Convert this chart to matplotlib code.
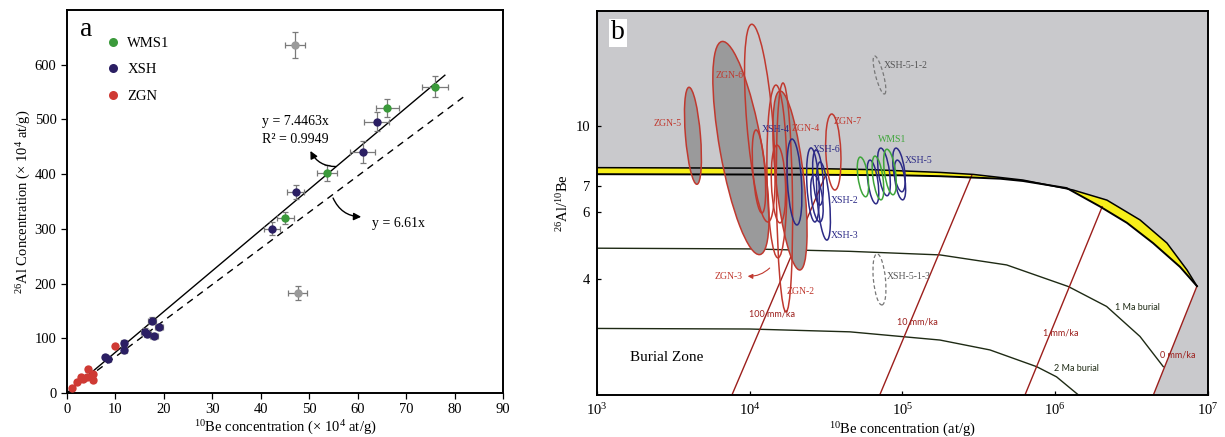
import numpy as np
import matplotlib
matplotlib.use("Agg")
import matplotlib.pyplot as plt
from matplotlib.lines import Line2D
from matplotlib.patches import Ellipse
from matplotlib.transforms import IdentityTransform

plt.rcParams["font.family"] = ["Liberation Serif", "DejaVu Serif"]
plt.rcParams["mathtext.fontset"] = "custom"
plt.rcParams["mathtext.rm"] = "Liberation Serif"
plt.rcParams["mathtext.it"] = "Liberation Serif:italic"
plt.rcParams["mathtext.bf"] = "Liberation Serif:bold"

# ---------------- panel a data (x 10^4 at/g) ----------------
wms_be = [76.0, 66.1, 53.7, 45.1]
wms_al = [560, 521, 402, 320]
wms_be_err = [2.7, 2.4, 2.0, 1.7]
wms_al_err = [19, 17, 14, 11]

xsh_be = [63.9, 61.0, 47.2, 42.3, 17.5, 16.1, 16.6, 17.9, 19.0, 11.8, 11.8, 7.9, 8.5]
xsh_al = [496, 441, 367, 300, 132, 112, 108, 104, 121, 91, 79, 66, 62]
xsh_be_err = [2.6, 2.6, 1.8, 1.7, 0.8, 0.8, 0.8, 0.8, 0.8, 0.6, 0.6, 0.5, 0.5]
xsh_al_err = [18, 20, 13, 12, 6, 6, 6, 6, 6, 5, 5, 4, 4]

zgn_be = [10.0, 4.4, 2.8, 5.3, 4.1, 2.1, 1.0, 3.4, 5.4]
zgn_al = [86, 43, 29, 35, 30, 21, 10, 25, 24]
zgn_be_err = [0.4, 0.3, 0.3, 0.3, 0.3, 0.2, 0.2, 0.3, 0.3]
zgn_al_err = [4, 4, 3, 3, 3, 2, 2, 3, 3]

out_be = [47.0, 47.6]
out_al = [636, 183]
out_be_err = [2.1, 1.9]
out_al_err = [24, 13]

fit_slope = 7.4463
ref_slope = 6.61
fit_xmax = 78.0
ref_xmax = 82.5

# ---------------- panel b data (at/g, ratio) ----------------
upper_be = [1e3, 2.13e4, 6.12e4, 1.76e5, 2.9e5, 6.15e5, 1.31e6, 2.18e6, 3.59e6, 5.39e6, 7.29e6, 8.47e6]
upper_ratio = [7.81, 7.78, 7.72, 7.59, 7.50, 7.25, 6.83, 6.43, 5.71, 4.97, 4.23, 3.84]
lower_be = [1e3, 2.13e4, 9.63e4, 1.76e5, 4.35e5, 6.15e5, 1.19e6, 1.96e6, 2.95e6, 4.37e6, 6.56e6, 8.47e6]
lower_ratio = [7.51, 7.49, 7.46, 7.42, 7.31, 7.21, 6.91, 6.19, 5.61, 4.97, 4.31, 3.84]

burial1_be = [1e3, 1.0e4, 4.53e4, 1.76e5, 4.81e5, 1.22e6, 2.17e6, 3.59e6, 5.10e6]
burial1_ratio = [4.82, 4.80, 4.73, 4.63, 4.36, 3.83, 3.40, 2.84, 2.37]
burial2_be = [1e3, 1.0e4, 4.53e4, 1.76e5, 3.74e5, 7.56e5, 1.02e6, 1.42e6]
burial2_ratio = [2.98, 2.97, 2.92, 2.78, 2.62, 2.37, 2.23, 2.0]

erosion_names = ["100 mm/ka", "10 mm/ka", "1 mm/ka", "0 mm/ka"]
erosion_be = [(7.65e3, 3.16e4), (7.10e4, 2.84e5), (6.34e5, 2.03e6), (4.39e6, 8.47e6)]
erosion_ratio = [(2.0, 7.51), (2.0, 7.45), (2.0, 6.18), (2.0, 3.84)]
erosion_label_pos = [(1.40e4, 3.25), (1.26e5, 3.09), (1.09e6, 2.905), (6.36e6, 2.54)]

# ellipses: (top Be, top ratio, bottom Be, bottom ratio, minor width in log10 units)
zgn_filled = [
    (4002, 12.64, 4515, 7.07, 0.098),
    (6580, 16.63, 11670, 4.64, 0.275),
    (15780, 12.36, 21330, 4.23, 0.183),
]
zgn_open = [
    (4002, 12.64, 4515, 7.07, 0.098),
    (6580, 16.63, 11670, 4.64, 0.275),
    (15780, 12.36, 21330, 4.23, 0.183),
    (10300, 18.44, 13170, 5.64, 0.170),
    (10990, 9.79, 12030, 5.95, 0.079),
    (14850, 12.81, 15310, 4.55, 0.131),
    (16510, 12.97, 17280, 3.29, 0.105),
    (15080, 8.94, 15780, 5.61, 0.092),
    (34400, 10.77, 36150, 6.83, 0.098),
]
xsh_ell = [
    (18910, 9.27, 20390, 5.54, 0.092),
    (25180, 8.79, 26740, 5.64, 0.079),
    (27150, 8.68, 28830, 6.24, 0.065),
    (28830, 8.08, 32040, 5.06, 0.079),
    (26340, 7.47, 28830, 5.64, 0.072),
    (61180, 8.17, 67180, 6.29, 0.065),
    (72000, 8.78, 79520, 6.60, 0.072),
    (90540, 8.78, 99400, 6.76, 0.072),
    (92330, 8.17, 100500, 6.44, 0.065),
]
wms_ell = [
    (52850, 8.32, 57520, 6.56, 0.065),
    (65970, 8.37, 72430, 6.44, 0.065),
    (78920, 8.72, 86930, 6.64, 0.072),
]
grey_ell = [
    (65570, 15.25, 76340, 12.14, 0.052),
    (68090, 4.66, 73400, 3.43, 0.079),
]

zgn_labels = [("ZGN-5", 2916, 10.2), ("ZGN-6", 7424, 13.53), ("ZGN-4", 23350, 9.90),
              ("ZGN-7", 43980, 10.27), ("ZGN-2", 21650, 3.71)]
xsh_labels = [("XSH-4", 14850, 9.79), ("XSH-6", 32040, 8.73), ("XSH-2", 42030, 6.40),
              ("XSH-3", 42030, 5.19), ("XSH-5", 128200, 8.14)]

GREEN = "#3b9a3b"
NAVY = "#2b1f63"
RED = "#cf3a34"
GREY = "#9a9a9a"
ZRED = "#c0392f"
BLUE = "#2c2a86"
ERO = "#9c1f1c"
BUR = "#1e2a14"

fig = plt.figure(figsize=(12.25, 4.37), dpi=100)
ax = fig.add_axes([0.0547, 0.1007, 0.3559, 0.8764])
bx = fig.add_axes([0.4873, 0.0961, 0.4988, 0.8794])

# ---------------- panel a ----------------
ebkw = dict(fmt="o", ms=6, ecolor="#7a7a7a", elinewidth=0.9, capsize=2.5, capthick=0.9,
            mec="none", zorder=3)
ax.errorbar(out_be, out_al, xerr=out_be_err, yerr=out_al_err, color=GREY, **ebkw)
ax.errorbar(zgn_be, zgn_al, xerr=zgn_be_err, yerr=zgn_al_err, color=RED, **ebkw)
ax.errorbar(xsh_be, xsh_al, xerr=xsh_be_err, yerr=xsh_al_err, color=NAVY, **ebkw)
ax.errorbar(wms_be, wms_al, xerr=wms_be_err, yerr=wms_al_err, color=GREEN, **ebkw)

xf = np.array([0, fit_xmax])
ax.plot(xf, fit_slope * xf, color="black", lw=1.0, zorder=2)
xr = np.array([0, ref_xmax])
ax.plot(xr, ref_slope * xr, color="black", lw=1.0, ls=(0, (5, 4)), zorder=2)

ax.text(40.3, 497, "y = 7.4463x", fontsize=10, va="center", ha="left")
ax.text(40.3, 464, "R² = 0.9949", fontsize=10, va="center", ha="left")
ax.text(63.0, 310, "y = 6.61x", fontsize=10, va="center", ha="left")
ax.annotate("", xy=(50.0, 447), xytext=(56.1, 414),
            arrowprops=dict(arrowstyle="-|>", color="black", lw=1.0,
                            connectionstyle="arc3,rad=-0.35", mutation_scale=11))
ax.annotate("", xy=(61.3, 322), xytext=(54.7, 361),
            arrowprops=dict(arrowstyle="-|>", color="black", lw=1.0,
                            connectionstyle="arc3,rad=0.35", mutation_scale=11))

ax.text(0.045, 0.948, "a", transform=ax.transAxes, fontsize=20, va="center", ha="center")
handles = [Line2D([], [], ls="none", marker="o", ms=6.5, mec="none", color=c)
           for c in (GREEN, NAVY, RED)]
ax.legend(handles, ["WMS1", "XSH", "ZGN"], loc="upper left", bbox_to_anchor=(0.055, 0.965),
          frameon=False, fontsize=10.5, handletextpad=0.4, labelspacing=0.92,
          handlelength=1.2)

ax.set_xlim(0, 90)
ax.set_ylim(0, 700)
ax.set_xticks(np.arange(0, 91, 10))
ax.set_yticks(np.arange(0, 601, 100))
ax.tick_params(direction="out", length=4, width=0.9, labelsize=10.5)
for s in ax.spines.values():
    s.set_linewidth(1.4)
ax.set_xlabel("$^{10}$Be concentration (× 10$^{4}$ at/g)", fontsize=10.5, labelpad=2)
ax.set_ylabel("$^{26}$Al Concentration (× 10$^{4}$ at/g)", fontsize=10.5, labelpad=1)

# ---------------- panel b ----------------
bx.set_xscale("log")
bx.set_yscale("log")
bx.set_xlim(1e3, 1e7)
bx.set_ylim(2, 20)
bx.set_facecolor("#c9c9cc")

white_x = lower_be + [erosion_be[3][0], 1e3]
white_y = lower_ratio + [2.0, 2.0]
bx.fill(white_x, white_y, color="white", lw=0, zorder=1)
bx.fill(upper_be + lower_be[::-1], upper_ratio + lower_ratio[::-1], color="#f7ef1a",
        lw=0, zorder=1.5)

bx.plot(burial1_be, burial1_ratio, color=BUR, lw=1.0, zorder=2)
bx.plot(burial2_be, burial2_ratio, color=BUR, lw=1.0, zorder=2)
for be, ra in zip(erosion_be, erosion_ratio):
    bx.plot(be, ra, color=ERO, lw=1.0, zorder=2)
for name, (lx, ly) in zip(erosion_names, erosion_label_pos):
    bx.text(lx, ly, name, color=ERO, fontsize=6.5, family=["Lato", "DejaVu Sans"],
            ha="center", va="center", zorder=6)
bx.text(3.43e6, 3.37, "1 Ma burial", color=BUR, fontsize=6.5, family=["Lato", "DejaVu Sans"],
        ha="center", va="center", zorder=6)
bx.text(1.387e6, 2.34, "2 Ma burial", color=BUR, fontsize=6.5, family=["Lato", "DejaVu Sans"],
        ha="center", va="center", zorder=6)
bx.text(2870, 2.50, "Burial Zone", fontsize=11, ha="center", va="center", zorder=6)

fig.canvas.draw()
px_per_dex = bx.transData.transform((1e4, 2))[0] - bx.transData.transform((1e3, 2))[0]


def draw_ellipse(axis, spec, **kw):
    x1, y1, x2, y2, wd = spec
    p1 = axis.transData.transform((x1, y1))
    p2 = axis.transData.transform((x2, y2))
    d = p1 - p2
    ang = np.degrees(np.arctan2(-d[0], d[1]))
    e = Ellipse((p1 + p2) / 2, wd * px_per_dex, np.hypot(*d), angle=ang,
                transform=IdentityTransform(), **kw)
    axis.add_artist(e)
    return e


for spec in zgn_filled:
    draw_ellipse(bx, spec, facecolor="#9a9a9b", edgecolor="none", zorder=2.5)
# band outlines over the filled ellipses
bx.plot(upper_be, upper_ratio, color="black", lw=1.1, zorder=3)
bx.plot(lower_be, lower_ratio, color="black", lw=1.4, zorder=3)

for spec in zgn_open:
    draw_ellipse(bx, spec, facecolor="none", edgecolor=ZRED, lw=1.1, zorder=4)
for spec in xsh_ell:
    draw_ellipse(bx, spec, facecolor="none", edgecolor=BLUE, lw=1.1, zorder=4)
for spec in wms_ell:
    draw_ellipse(bx, spec, facecolor="none", edgecolor="#3ea53a", lw=1.1, zorder=4)
for spec in grey_ell:
    draw_ellipse(bx, spec, facecolor="none", edgecolor="#777777", lw=0.9, ls=(0, (3, 2)),
                 zorder=4)

for name, lx, ly in zgn_labels:
    bx.text(lx, ly, name, color=ZRED, fontsize=7, ha="center", va="center", zorder=6)
for name, lx, ly in xsh_labels:
    bx.text(lx, ly, name, color=BLUE, fontsize=7, ha="center", va="center", zorder=6)
bx.text(85350, 9.26, "WMS1", color="#3ea53a", fontsize=7, ha="center", va="center", zorder=6)
bx.text(75660, 14.42, "XSH-5-1-2", color="#555555", fontsize=7, ha="left", va="center", zorder=6)
bx.text(78800, 4.06, "XSH-5-1-3", color="#555555", fontsize=7, ha="left", va="center", zorder=6)
bx.text(7314, 4.06, "ZGN-3", color=ZRED, fontsize=7, ha="center", va="center", zorder=6)
bx.annotate("", xy=(9309, 4.08), xytext=(13920, 4.33),
            arrowprops=dict(arrowstyle="-|>", color=ZRED, lw=0.8,
                            connectionstyle="arc3,rad=-0.25", mutation_scale=7), zorder=6)

bx.text(0.034, 0.942, "b", transform=bx.transAxes, fontsize=20, ha="center", va="center",
        bbox=dict(facecolor="white", edgecolor="none", pad=1.5), zorder=7)

bx.set_xticks([1e3, 1e4, 1e5, 1e6, 1e7])
bx.set_xticklabels(["10$^{3}$", "10$^{4}$", "10$^{5}$", "10$^{6}$", "10$^{7}$"])
bx.set_yticks([4, 6, 7, 10])
bx.set_yticklabels(["4", "6", "7", "10"])
bx.minorticks_off()
bx.tick_params(direction="in", length=3, width=0.9, labelsize=10.5, pad=5)
for s in bx.spines.values():
    s.set_linewidth(1.4)
    s.set_zorder(8)
bx.set_xlabel("$^{10}$Be concentration (at/g)", fontsize=10.5, labelpad=2)
bx.set_ylabel("$^{26}$Al/$^{10}$Be", fontsize=10.5, labelpad=3)

fig.savefig("out.png", dpi=100)
